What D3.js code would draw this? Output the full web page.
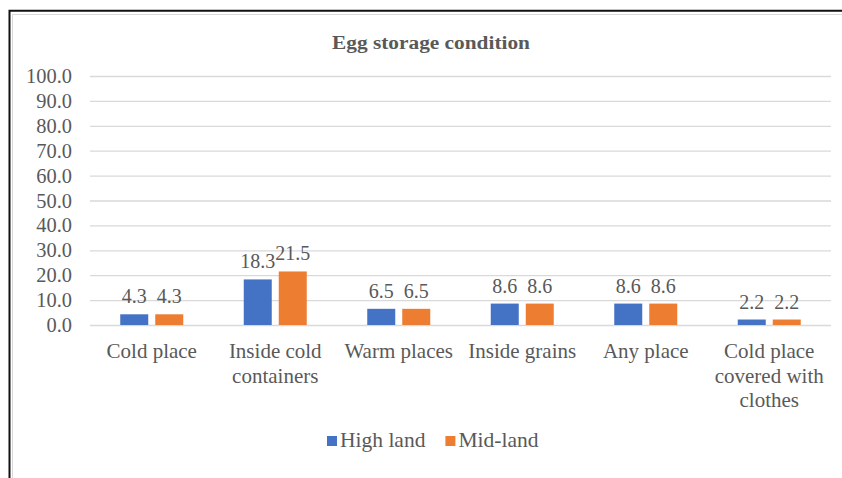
<!DOCTYPE html>
<html>
<head>
<meta charset="utf-8">
<script src="https://cdn.jsdelivr.net/npm/d3@7"></script>
<style>
  body { margin: 0; background: #fff; }
  text { font-family: "Liberation Serif", "Times New Roman", serif; fill: #595959; }
</style>
</head>
<body>
<div id="chart"></div>
<script>
// chart values
const categories = ['Cold place', 'Inside cold containers', 'Warm places', 'Inside grains', 'Any place', 'Cold place covered with clothes'];
const series = ['High land', 'Mid-land'];
const highLand = [4.3, 18.3, 6.5, 8.6, 8.6, 2.2];
const midLand = [4.3, 21.5, 6.5, 8.6, 8.6, 2.2];
const yTicks = [0, 10, 20, 30, 40, 50, 60, 70, 80, 90, 100];
const colors = ['#4472C4', '#ED7D31'];

const W = 842, H = 478;
const margin = { top: 76, right: 11, bottom: 153, left: 90 };

const svg = d3.select('#chart').append('svg')
  .attr('width', W)
  .attr('height', H);

// frame: black outer line + thin grey inner line
svg.append('path')
  .attr('d', 'M9.5,' + H + 'V10.8H' + W)
  .attr('fill', 'none').attr('stroke', '#111').attr('stroke-width', 2);
svg.append('path')
  .attr('d', 'M12.5,' + H + 'V14.5H' + W)
  .attr('fill', 'none').attr('stroke', '#d9d9d9').attr('stroke-width', 1);

svg.append('text')
  .attr('x', 431)
  .attr('y', 49)
  .attr('text-anchor', 'middle')
  .style('font-weight', 'bold')
  .style('font-size', '18px')
  .attr('textLength', 198)
  .attr('lengthAdjust', 'spacingAndGlyphs')
  .text('Egg storage condition');

const x0 = d3.scaleBand()
  .domain(categories)
  .range([margin.left, W - margin.right]);

const x1 = d3.scaleBand()
  .domain(series)
  .range([0, x0.bandwidth()])
  .paddingInner(0.2)
  .paddingOuter(0.864);

const y = d3.scaleLinear()
  .domain([0, 100])
  .range([H - margin.bottom, margin.top]);

// grid + y labels
const yAxis = d3.axisLeft(y)
  .tickValues(yTicks)
  .tickFormat(d3.format('.1f'))
  .tickSize(-(W - margin.right - margin.left))
  .tickPadding(18);

const gy = svg.append('g')
  .attr('transform', 'translate(' + margin.left + ',0)')
  .call(yAxis);
gy.select('.domain').remove();
gy.selectAll('.tick line').attr('stroke', '#d9d9d9').attr('stroke-width', 1.3);
gy.selectAll('.tick text')
  .style('font-size', '20.4px')
  .attr('fill', '#595959')
  .style('font-family', '"Liberation Serif", serif');

const rows = categories.map((c, i) => ({ cat: c, vals: [highLand[i], midLand[i]] }));

const groups = svg.selectAll('g.cat')
  .data(rows)
  .enter()
  .append('g')
  .attr('class', 'cat')
  .attr('transform', d => 'translate(' + x0(d.cat) + ',0)');

groups.selectAll('rect')
  .data(d => d.vals.map((v, j) => ({ s: series[j], v: v, j: j })))
  .enter()
  .append('rect')
  .attr('x', d => x1(d.s))
  .attr('y', d => y(d.v))
  .attr('width', x1.bandwidth())
  .attr('height', d => y(0) - y(d.v))
  .attr('fill', d => colors[d.j]);

groups.selectAll('text.val')
  .data(d => d.vals.map((v, j) => ({ s: series[j], v: v })))
  .enter()
  .append('text')
  .attr('class', 'val')
  .attr('x', d => x1(d.s) + x1.bandwidth() / 2)
  .attr('y', d => y(d.v) - 11)
  .attr('text-anchor', 'middle')
  .style('font-size', '20px')
  .text(d => d.v.toFixed(1));

// word wrap for category labels
function wrap(text, width) {
  text.each(function() {
    const t = d3.select(this),
          words = t.text().split(/\s+/).reverse(),
          xx = t.attr('x');
    let word, line = [];
    let tspan = t.text(null).append('tspan').attr('x', xx).attr('dy', 0);
    while (word = words.pop()) {
      line.push(word);
      tspan.text(line.join(' '));
      if (tspan.node().getComputedTextLength() > width && line.length > 1) {
        line.pop();
        tspan.text(line.join(' '));
        line = [word];
        tspan = t.append('tspan').attr('x', xx).attr('dy', 24.5).text(word);
      }
    }
  });
}

svg.selectAll('text.cat')
  .data(categories)
  .enter()
  .append('text')
  .attr('class', 'cat')
  .attr('x', d => x0(d) + x0.bandwidth() / 2)
  .attr('y', 358)
  .attr('text-anchor', 'middle')
  .style('font-size', '21px')
  .text(d => d)
  .call(wrap, 118);

// legend
const legend = svg.append('g');
let lx = 327;
series.forEach((s, i) => {
  legend.append('rect')
    .attr('x', lx).attr('y', 436)
    .attr('width', 10).attr('height', 10)
    .attr('fill', colors[i]);
  const t = legend.append('text')
    .attr('x', lx + 13).attr('y', 447)
    .style('font-size', '21.5px')
    .text(s);
  lx += 13 + t.node().getComputedTextLength() + 20;
});
</script>
</body>
</html>
